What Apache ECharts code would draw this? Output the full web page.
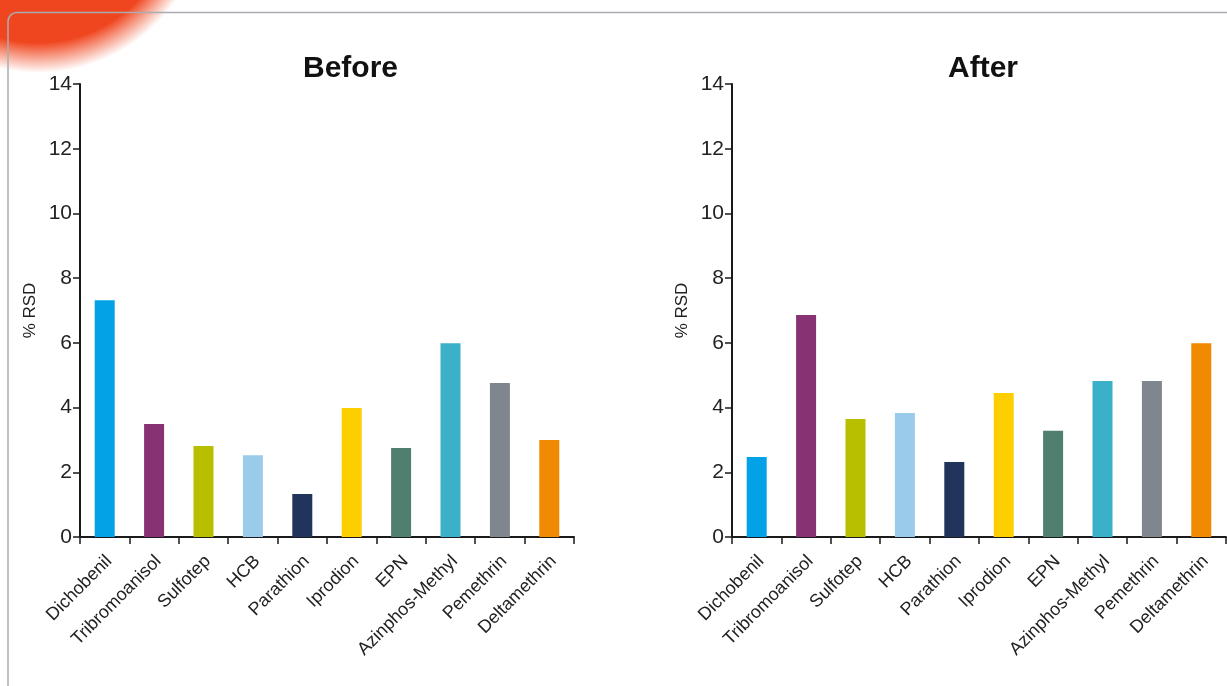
<!DOCTYPE html>
<html>
<head>
<meta charset="utf-8">
<script src="https://cdn.jsdelivr.net/npm/echarts@6/dist/echarts.min.js"></script>
<style>
html,body{margin:0;padding:0;background:#fff;}
#c{width:1227px;height:686px;}
</style>
</head>
<body>
<div id="c"></div>
<script>
const categories = ['Dichobenil','Tribromoanisol','Sulfotep','HCB','Parathion','Iprodion','EPN','Azinphos-Methyl','Pemethrin','Deltamethrin'];
const beforeValues = [7.32, 3.49, 2.81, 2.53, 1.33, 3.99, 2.75, 5.99, 4.76, 3.00];
const afterValues = [2.47, 6.86, 3.65, 3.83, 2.32, 4.45, 3.28, 4.82, 4.82, 5.99];
const barColors = ['#03a1e6','#873272','#b8be00','#9bcbea','#20345c','#fecf00','#507f70','#3bb1c9','#7f868d','#f08a00'];
const chartTitles = ['Before','After'];
const yAxisName = '% RSD';
const yTicks = {min:0, max:14, interval:2};

const FONT = '"Liberation Sans", Arial, sans-serif';
const chart = echarts.init(document.getElementById('c'), null, {renderer:'canvas'});

function mkX(gi){
  return {
    type:'category', gridIndex:gi, data:categories,
    axisLine:{show:true, lineStyle:{color:'#1a1a1a', width:2}},
    axisTick:{show:true, inside:false, length:7, alignWithLabel:false, lineStyle:{color:'#1a1a1a', width:1.5}},
    axisLabel:{rotate:45, interval:0, margin:13, verticalAlign:'top', padding:[0,3,0,0],
      color:'#222', fontFamily:FONT, fontSize:18},
    splitLine:{show:false}
  };
}
function mkY(gi){
  return {
    type:'value', gridIndex:gi, min:yTicks.min, max:yTicks.max, interval:yTicks.interval,
    name:yAxisName, nameLocation:'middle', nameRotate:90, nameGap:41,
    nameTextStyle:{color:'#222', fontFamily:FONT, fontSize:17},
    axisLine:{show:true, lineStyle:{color:'#1a1a1a', width:2}},
    axisTick:{show:true, inside:false, length:7, lineStyle:{color:'#1a1a1a', width:1.5}},
    axisLabel:{margin:8, color:'#222', fontFamily:FONT, fontSize:21},
    splitLine:{show:false}
  };
}
function mkS(gi, vals){
  return {
    type:'bar', xAxisIndex:gi, yAxisIndex:gi, barWidth:20,
    data: vals.map((v,i)=>({value:v, itemStyle:{color:barColors[i]}})),
    z:1
  };
}

chart.setOption({
  animation:false,
  backgroundColor:'#fff',
  title:[
    {text:chartTitles[0], left:298, top:49, textStyle:{fontFamily:FONT, fontWeight:'bold', fontSize:30, color:'#111'}},
    {text:chartTitles[1], left:943, top:49, textStyle:{fontFamily:FONT, fontWeight:'bold', fontSize:30, color:'#111'}}
  ],
  grid:[
    {left:80, top:84, width:494, height:453},
    {left:732, top:84, width:494, height:453}
  ],
  xAxis:[mkX(0), mkX(1)],
  yAxis:[mkY(0), mkY(1)],
  series:[mkS(0, beforeValues), mkS(1, afterValues)],
  graphic:[
    {type:'circle', shape:{cx:38, cy:-95, r:168}, silent:true, z:-10,
     style:{fill:{type:'radial', x:0.5, y:0.5, r:0.5, colorStops:[
       {offset:0, color:'rgba(240,70,31,1)'},
       {offset:0.82, color:'rgba(240,70,31,1)'},
       {offset:0.9, color:'rgba(240,70,31,0.55)'},
       {offset:1, color:'rgba(240,70,31,0)'}
     ]}}},
    {type:'rect', shape:{x:8, y:12.5, width:1400, height:900, r:9}, silent:true, z:-5,
     style:{fill:'none', stroke:'#a9adb1', lineWidth:1.5}}
  ]
});
</script>
</body>
</html>
